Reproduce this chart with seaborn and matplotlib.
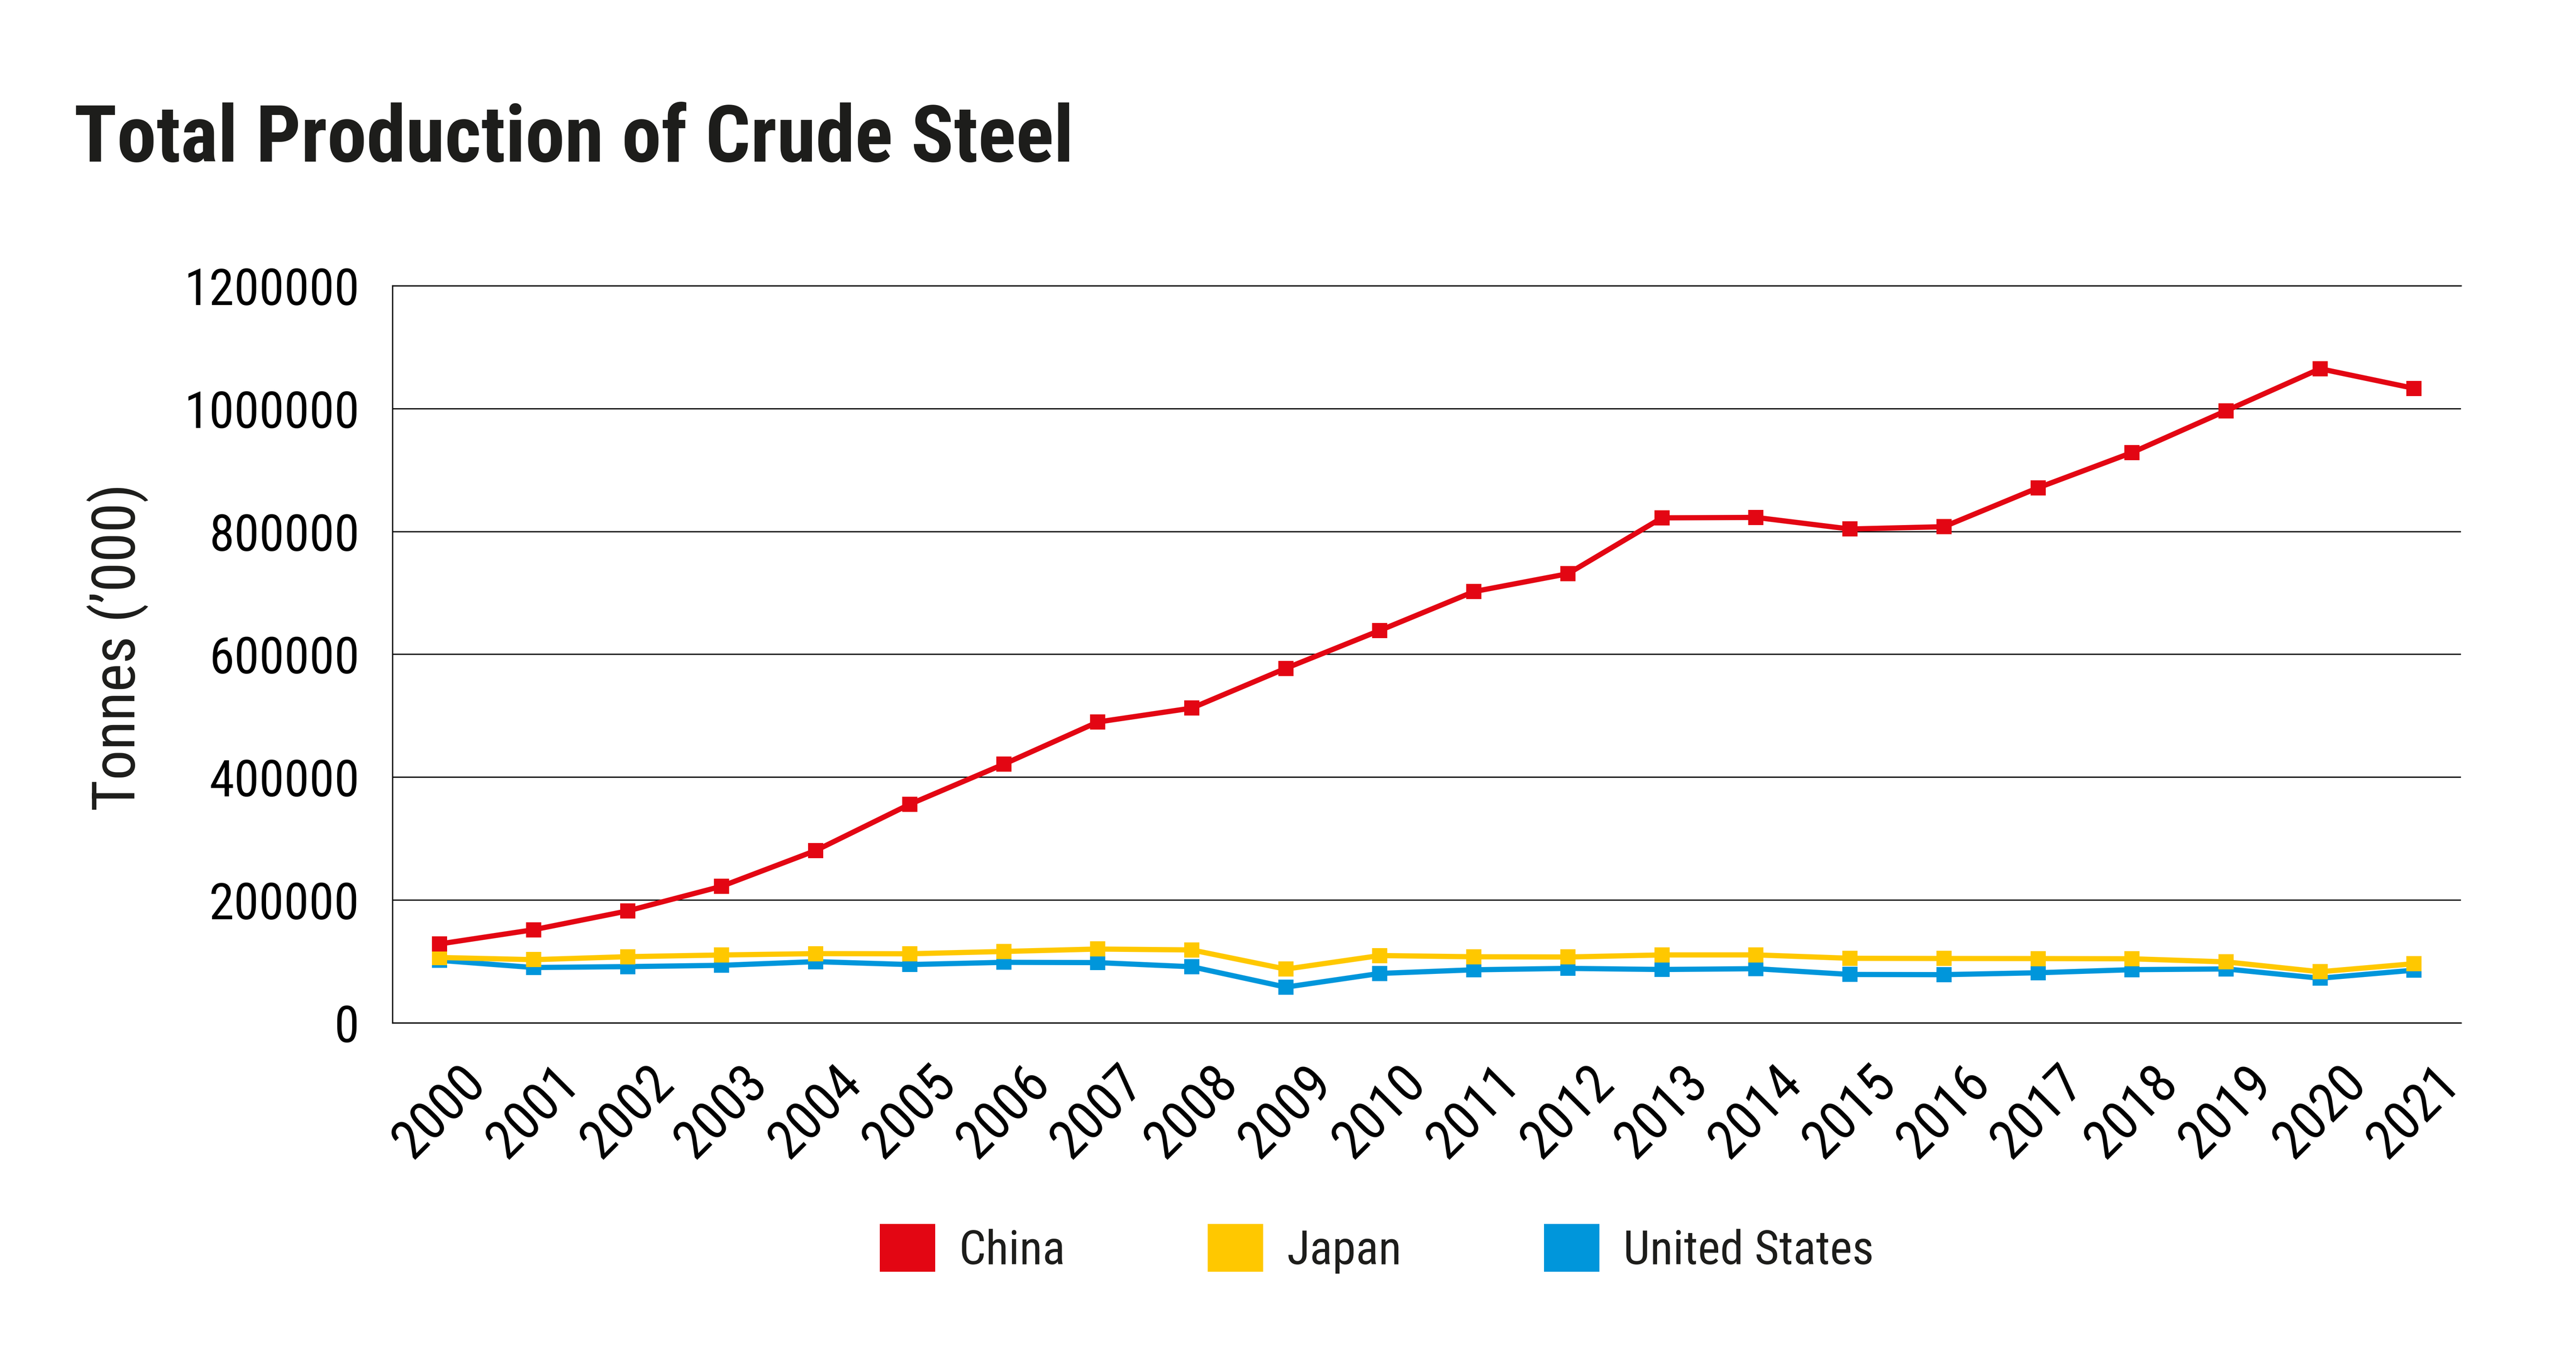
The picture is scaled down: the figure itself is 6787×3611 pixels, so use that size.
import matplotlib
matplotlib.use("Agg")
import matplotlib.pyplot as plt
import pandas as pd
import seaborn as sns
from matplotlib import font_manager
from matplotlib.patches import Patch

# crude steel production, thousand tonnes
years = [2000, 2001, 2002, 2003, 2004, 2005, 2006, 2007, 2008, 2009, 2010,
         2011, 2012, 2013, 2014, 2015, 2016, 2017, 2018, 2019, 2020, 2021]
china = [128500, 151630, 182250, 222340, 280490, 355790, 421020, 489710, 512340, 577070, 638740,
         701970, 731040, 822000, 822700, 803830, 807610, 870900, 928300, 996300, 1064730, 1032790]
japan = [106440, 102870, 107750, 110510, 112720, 112470, 116230, 120200, 118740, 87530, 109600,
         107600, 107230, 110600, 110670, 105130, 104780, 104660, 104320, 99280, 83190, 96340]
usa = [101800, 90100, 91590, 93680, 99680, 94900, 98560, 98100, 91350, 58200, 80500,
       86400, 88700, 86900, 88200, 78800, 78500, 81600, 86600, 87800, 72700, 85800]

countries = ["China", "Japan", "United States"]
colors = {"China": "#E30613", "Japan": "#FFC800", "United States": "#0096DB"}
yticks = [0, 200000, 400000, 600000, 800000, 1000000, 1200000]

df = pd.concat([
    pd.DataFrame({"year": years, "tonnes": china, "country": "China"}),
    pd.DataFrame({"year": years, "tonnes": japan, "country": "Japan"}),
    pd.DataFrame({"year": years, "tonnes": usa, "country": "United States"}),
])

sns.set_style("white")
# pick a condensed face if one is installed
installed = {f.name for f in font_manager.fontManager.ttflist}
narrow = next((n for n in ["Roboto Condensed", "Liberation Sans Narrow", "DejaVu Sans Condensed",
                           "Open Sans Condensed"] if n in installed), "DejaVu Sans")
plt.rcParams["font.family"] = [narrow, "DejaVu Sans"]
plt.rcParams["text.color"] = "#1d1d1b"

fig = plt.figure(figsize=(6787 / 300, 3612 / 300), dpi=300)
ax = fig.add_axes([0.1524, 0.2533, 0.803, 0.538])

# US first so China sits on top, like the original
sns.lineplot(data=df, x="year", y="tonnes", hue="country",
             hue_order=["United States", "Japan", "China"], palette=colors,
             marker="s", markersize=9.8, markeredgewidth=0, linewidth=3.3,
             legend=False, ax=ax)

ax.set_xlim(1999.5, 2021.5)
ax.set_ylim(0, 1200000)
ax.set_xticks(years)
ax.set_xticklabels([str(y) for y in years], rotation=45, ha="center")
ax.set_yticks(yticks)
ax.set_yticklabels([str(v) for v in yticks])
ax.tick_params(axis="y", length=0, labelsize=32, colors="black", pad=21)
ax.tick_params(axis="x", length=0, labelsize=34, colors="black", pad=21)

ax.yaxis.grid(True, color="black", linewidth=0.8)
ax.xaxis.grid(False)
for side in ["left", "bottom", "top"]:
    ax.spines[side].set_color("black")
    ax.spines[side].set_linewidth(0.8)
ax.spines["right"].set_visible(False)

ax.set_xlabel("")
ax.set_ylabel("Tonnes (\u2019000)", fontsize=38, color="#1d1d1b")
ax.yaxis.set_label_coords(-0.118, 0.51)

fig.text(0.0288, 0.882, "Total Production of Crude Steel", fontsize=50,
         fontweight="bold", ha="left", va="baseline")

handles = [Patch(facecolor=colors[c], edgecolor="none") for c in countries]
fig.legend(handles, countries, loc="center left", bbox_to_anchor=(0.3415, 0.0886),
           ncol=3, frameon=False, fontsize=30, borderpad=0, borderaxespad=0,
           handlelength=1.17, handleheight=1.17, handletextpad=0.5, columnspacing=3.0)

fig.savefig("out.png", dpi=300)
